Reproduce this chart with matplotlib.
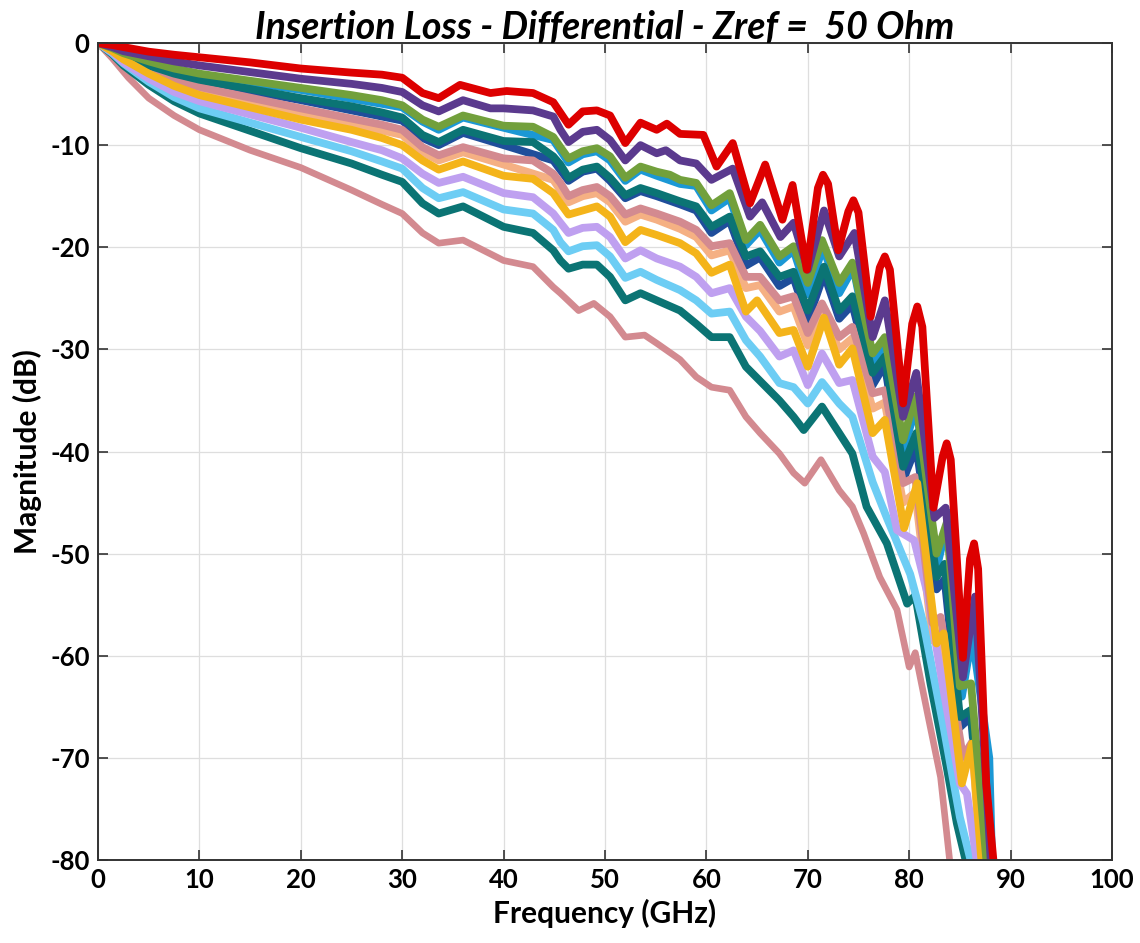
import matplotlib
matplotlib.use("Agg")
import matplotlib.pyplot as plt

plt.rcParams['font.family'] = ['Lato', 'DejaVu Sans']
plt.rcParams['axes.unicode_minus'] = False

# curves, (GHz, dB)
f_red = [0, 1.4, 2.5, 5, 7.5, 10, 15, 20, 25, 28, 30, 32, 33.6, 35.7, 38.7, 40.3, 42.9, 44.9, 46.4, 47.8, 49.2, 50.5,
         52, 53.5, 55.1, 56.1, 57.4, 59.7, 61, 62.6, 64.3, 65.8, 67.5, 68.5, 69.9, 71.0, 71.5, 72.0, 73,
         74.0, 74.5, 75.0, 76.2, 77.1, 77.6, 78.1, 79.4, 80.3, 80.8, 81.3, 82.4, 83.3, 83.7, 84.1, 85.3,
         86.0, 86.4, 86.8, 87.6, 88.4]
m_red = [0, -0.2, -0.4, -0.85, -1.15, -1.4, -1.9, -2.5, -2.9, -3.1, -3.4, -4.9, -5.4, -4.1, -4.9, -4.7, -4.9, -5.8, -8.0, -6.7, -6.6, -7.1,
         -9.8, -7.8, -8.5, -7.9, -8.9, -9.0, -12.1, -9.8, -15.7, -11.9, -17.3, -13.9, -22.2, -14.2, -12.9, -13.8, -20.3,
         -16.5, -15.4, -16.6, -26.8, -22.0, -20.9, -22.2, -35.3, -27.5, -25.8, -27.8, -45.5, -40.5, -39.2, -40.8, -60.2,
         -50.5, -49.0, -51.5, -72.5, -81]

f_purple = [0, 1.4, 2.5, 5, 7.5, 10, 15, 20, 25, 28, 30, 32, 33.6, 36, 38.7, 40, 42.9, 44.9, 45.6, 46.4, 47.8, 49.2, 50.5,
            52, 53.5, 55.1, 56, 57.4, 59, 60.5, 62.6, 64.3, 65.5, 67.3, 68.6, 70, 71.6, 73.1, 74.6, 76.4, 77.6,
            79.4, 80.7, 82.5, 83.6, 85.3, 86.5, 88.1]
m_purple = [0, -0.4, -0.8, -1.3, -1.8, -2.2, -2.85, -3.5, -4.0, -4.4, -4.8, -6.1, -6.7, -5.6, -6.4, -6.4, -6.6, -7.2, -8.5, -9.7, -8.7, -8.5, -9.5,
            -11.5, -10.0, -10.8, -10.5, -11.5, -11.8, -13.4, -12.3, -17.0, -15.6, -19.0, -17.6, -22.2, -16.4, -20.9, -18.6, -28.8, -25.2,
            -36.6, -32.3, -46.5, -45.5, -62.1, -54.2, -81]

f_green = [0, 1.4, 2.5, 5, 7.5, 10, 15, 20, 25, 28, 30, 32, 33.6, 36, 40, 42.9, 44.9, 45.6, 46.4, 47.8, 49.2, 50.5,
           52, 53.5, 55.1, 56.4, 57.4, 59, 60.5, 62.3, 63.9, 65.3, 67.2, 68.6, 70, 71.4, 73.1, 74.4, 76.4, 77.6,
           79.4, 80.6, 82.7, 83.7, 85.0, 86.1, 87.7]
m_green = [0, -0.5, -1.0, -1.8, -2.5, -3.0, -3.7, -4.4, -5.1, -5.6, -6.1, -7.5, -8.2, -7.1, -8.1, -8.2, -9.2, -10.2, -11.3, -10.6, -10.3, -11.1,
           -13.2, -12.1, -12.6, -12.9, -13.4, -13.7, -15.9, -14.7, -19.3, -17.8, -20.9, -19.9, -23.5, -19.3, -23.5, -21.5, -30.4, -28.8,
           -38.9, -34.6, -50.0, -47.0, -63.0, -62.7, -81]

f_teal1 = [0, 1.4, 2.5, 5, 7.5, 10, 15, 20, 25, 28, 30, 32, 33.6, 36, 40, 42.9, 44.9, 45.6, 46.4, 47.8, 49.2, 50.5,
           52, 53.5, 55.1, 57.4, 59, 60.5, 62.3, 63.9, 65.3, 67.2, 68.6, 70, 71.6, 73.1, 74.4, 76.4, 77.6,
           79.4, 80.7, 82.7, 83.5, 85.0, 86.1, 87.5]
m_teal1 = [0, -0.6, -1.2, -2.2, -3.0, -3.6, -4.5, -5.4, -6.2, -6.8, -7.3, -9.0, -9.7, -8.5, -9.6, -9.7, -11.1, -11.9, -13.2, -12.4, -12.1, -13.2,
           -14.9, -14.2, -14.7, -15.5, -16.0, -18.0, -17.0, -20.9, -20.4, -22.9, -22.4, -26.2, -21.9, -26.2, -24.8, -32.3, -30.7,
           -41.5, -38.2, -52.3, -51.0, -66.0, -65.3, -81]

f_pink1 = [0, 1.4, 2.5, 5, 7.5, 10, 15, 20, 25, 28, 30, 32, 33.6, 36, 40, 42.9, 44.9, 45.6, 46.4, 47.8, 49.2, 50.5,
           52, 53.5, 55.1, 57.4, 59, 60.5, 62.3, 63.9, 65.3, 67.2, 68.6, 70, 71.4, 73.1, 74.4, 76.4, 77.6,
           79.4, 80.6, 82.3, 83.1, 85.3, 86.3, 87.4]
m_pink1 = [0, -0.7, -1.4, -2.6, -3.6, -4.3, -5.35, -6.4, -7.4, -8.0, -8.5, -10.2, -11.0, -10.2, -11.3, -11.5, -12.8, -13.7, -15.0, -14.4, -14.1, -15.0,
           -16.8, -16.2, -16.7, -17.5, -18.3, -19.9, -19.6, -22.9, -22.9, -25.2, -24.8, -28.4, -25.5, -28.8, -27.8, -34.3, -34.0,
           -43.1, -42.5, -56.8, -56.2, -69.9, -68.3, -81]

f_yellow = [0, 1.4, 2.5, 5, 7.5, 10, 15, 20, 25, 28, 30, 32, 33.6, 36, 40, 42.9, 44.9, 45.6, 46.4, 47.8, 49.2, 50.5,
            52, 53.5, 55.1, 57.4, 59, 60.5, 62.3, 63.9, 65.0, 67.2, 68.6, 70, 71.6, 73.1, 74.4, 76.4, 77.6,
            79.5, 80.8, 82.7, 83.4, 85.2, 86.2, 87.2]
m_yellow = [0, -0.8, -1.6, -3.0, -4.2, -5.1, -6.3, -7.5, -8.5, -9.3, -10.0, -11.5, -12.4, -11.6, -13.0, -13.3, -14.7, -15.7, -16.8, -16.4, -16.0, -17.0,
            -19.5, -18.3, -18.8, -19.6, -20.6, -22.5, -21.7, -26.3, -25.2, -28.4, -28.1, -31.7, -26.9, -31.5, -29.9, -38.2, -36.9,
            -47.5, -43.1, -58.8, -57.8, -72.5, -68.6, -81]

f_lav = [0, 1.4, 2.5, 5, 7.5, 10, 15, 20, 25, 28, 30, 32, 33.6, 36, 40, 42.9, 44.9, 45.6, 46.4, 47.8, 49.2, 50.5,
         52, 53.5, 55.1, 57.4, 59, 60.5, 62.3, 63.9, 65.3, 67.2, 68.6, 70, 71.4, 73.1, 74.4, 76.4, 77.6,
         78.8, 80.5, 81.8, 83.4, 85.0, 85.7, 86.8]
m_lav = [0, -0.9, -1.9, -3.5, -4.8, -5.7, -7.0, -8.3, -9.7, -10.5, -11.3, -12.8, -13.7, -13.1, -14.7, -15.1, -16.7, -17.6, -18.6, -18.1, -18.0, -19.0,
         -21.1, -20.3, -21.1, -21.9, -22.9, -24.5, -24.0, -26.8, -28.2, -30.7, -30.1, -33.5, -30.4, -33.3, -33.0, -40.5, -42.0,
         -47.7, -48.7, -53.9, -63.4, -72.5, -73.5, -81]

f_lblue = [0, 1.4, 2.5, 5, 7.5, 10, 15, 20, 25, 28, 30, 32, 33.6, 36, 40, 42.9, 44.9, 45.6, 46.4, 47.8, 49.2, 50.5,
           52, 53.5, 55.1, 57.4, 59, 60.5, 62.3, 63.9, 65.3, 67.2, 68.6, 70, 71.4, 73.1, 74.4, 76.4, 77.8,
           80.1, 81.4, 83.4, 85.0, 86.3]
m_lblue = [0, -1.0, -2.0, -3.8, -5.3, -6.4, -7.8, -9.2, -10.6, -11.6, -12.3, -14.2, -15.2, -14.6, -16.3, -16.7, -18.3, -19.5, -20.4, -19.9, -19.8, -20.9,
           -23.0, -22.4, -23.2, -24.2, -25.2, -26.5, -26.3, -29.1, -30.7, -33.3, -33.7, -35.3, -33.2, -35.3, -36.6, -43.0, -46.5,
           -52.0, -56.8, -67.0, -75.8, -81]

f_teal2 = [0, 1.4, 2.5, 5, 7.5, 10, 15, 20, 25, 28, 30, 32, 33.6, 36, 40, 42.9, 44.9, 45.6, 46.4, 47.8, 49.2, 50.5,
           52, 53.5, 55.1, 57.4, 59, 60.5, 62.3, 63.9, 65.3, 67.2, 68.6, 69.6, 71.4, 73.1, 74.4, 75.8, 77.8,
           79.8, 80.6, 82.1, 83.7, 84.7, 85.8]
m_teal2 = [0, -1.1, -2.2, -4.1, -5.7, -6.9, -8.6, -10.3, -11.8, -12.9, -13.6, -15.7, -16.7, -16.0, -18.0, -18.6, -20.3, -21.3, -22.1, -21.7, -21.7, -22.9,
           -25.2, -24.5, -25.2, -26.2, -27.5, -28.8, -28.8, -31.7, -33.1, -35.0, -36.6, -37.9, -35.6, -38.2, -40.2, -45.4, -49.0,
           -54.9, -54.1, -62.7, -70.9, -76.4, -81]

f_pink2 = [0, 1.4, 3.0, 5, 7.5, 10, 15, 20, 25, 28, 30, 32, 33.6, 36, 40, 42.9, 44.9, 45.6, 47.4, 48.9, 50.5,
           52, 53.9, 55.1, 57.4, 59, 60.5, 62.3, 63.9, 65.3, 67.2, 68.6, 69.7, 71.3, 73.1, 74.4, 75.5, 77.1,
           78.8, 80.0, 80.6, 81.8, 83.1, 84.1]
m_pink2 = [0, -1.5, -3.4, -5.4, -7.1, -8.5, -10.5, -12.2, -14.4, -15.8, -16.7, -18.6, -19.6, -19.3, -21.3, -21.9, -23.9, -24.5, -26.2, -25.5, -26.8,
           -28.8, -28.6, -29.4, -31.0, -32.7, -33.7, -34.0, -36.6, -38.2, -40.2, -42.1, -43.1, -40.8, -43.8, -45.4, -48.0, -52.3,
           -55.5, -61.1, -59.7, -65.6, -71.9, -81]

# traces mostly hidden under the others
f_blue = [0, 5, 10, 20, 30, 32, 33.6, 36, 40, 44.9, 46.4, 47.8, 49.2, 50.5, 52, 53.5, 55.1, 57.4, 59, 60.5,
          62.3, 63.9, 65.3, 67.2, 68.6, 70, 71.5, 73.1, 74.5, 76.4, 77.6, 79.4, 80.7, 82.7, 84.0, 85.2, 86.2, 87.9, 88.2]
m_blue = [0, -1.9, -3.1, -4.6, -6.3, -7.7, -8.5, -7.3, -8.3, -9.5, -11.7, -10.9, -10.6, -11.5, -13.5, -12.4, -13.0, -13.8, -14.0, -16.4,
          -15.2, -19.8, -18.3, -21.5, -20.3, -24.6, -20.0, -24.5, -22.0, -31.5, -29.5, -40.0, -35.5, -51.5, -46.0, -64.0, -58.0, -70.0, -81]

f_dblue = [0, 5, 10, 20, 30, 32, 33.6, 36, 40, 44.9, 46.4, 47.8, 49.2, 50.5, 52, 53.5, 55.1, 57.4, 59, 60.5,
           62.3, 63.9, 65.3, 67.2, 68.6, 70, 71.6, 73.1, 74.4, 76.4, 77.6, 79.4, 80.7, 82.7, 83.5, 85.0, 86.1, 87.4]
m_dblue = [0, -2.3, -3.8, -5.6, -7.6, -9.3, -10.0, -8.8, -10.0, -11.5, -13.5, -12.6, -12.3, -13.5, -15.2, -14.5, -15.0, -15.8, -16.4, -18.6,
           -17.4, -21.8, -21.0, -23.8, -23.0, -27.2, -22.6, -27.0, -25.6, -33.5, -31.5, -42.8, -39.5, -53.5, -52.5, -67.0, -66.0, -81]

f_peach = [0, 5, 10, 20, 30, 32, 33.6, 36, 40, 44.9, 46.4, 47.8, 49.2, 50.5, 52, 53.5, 55.1, 57.4, 59, 60.5,
           62.3, 63.9, 65.3, 67.2, 68.6, 70, 71.5, 73.1, 74.4, 76.4, 77.6, 79.4, 80.6, 82.3, 83.1, 85.3, 86.3, 87.1]
m_peach = [0, -2.8, -4.6, -6.8, -9.0, -10.7, -11.5, -10.7, -11.9, -13.4, -15.6, -15.0, -14.7, -15.6, -17.5, -16.8, -17.3, -18.2, -19.0, -20.8,
           -20.3, -24.0, -23.7, -26.3, -25.8, -29.6, -26.5, -30.0, -28.9, -35.8, -35.2, -45.0, -44.0, -58.5, -57.8, -71.3, -69.8, -81]

fig = plt.figure(figsize=(11.4, 9.43), dpi=100)
ax = fig.add_axes([0.086, 0.088, 0.8894, 0.8664])

lw = 5.6
kw = dict(solid_joinstyle='round', solid_capstyle='round')
ax.plot(f_blue, m_blue, color='#1B98D5', lw=lw, **kw)
ax.plot(f_dblue, m_dblue, color='#1F4E9B', lw=lw, **kw)
ax.plot(f_peach, m_peach, color='#F5B083', lw=lw, **kw)
ax.plot(f_pink2, m_pink2, color='#D38A90', lw=4.8, **kw)
ax.plot(f_teal2, m_teal2, color='#0B7474', lw=lw, **kw)
ax.plot(f_lblue, m_lblue, color='#6DCDF4', lw=lw, **kw)
ax.plot(f_lav, m_lav, color='#BFA0F0', lw=lw, **kw)
ax.plot(f_pink1, m_pink1, color='#D38A90', lw=lw, **kw)
ax.plot(f_teal1, m_teal1, color='#0B7474', lw=lw, **kw)
ax.plot(f_yellow, m_yellow, color='#F4B41A', lw=lw, **kw)
ax.plot(f_green, m_green, color='#72A03C', lw=lw, **kw)
ax.plot(f_purple, m_purple, color='#5B3A8E', lw=lw, **kw)
ax.plot(f_red, m_red, color='#DD0000', lw=lw, **kw)

ax.set_xlim(0, 100)
ax.set_ylim(-80, 0)
ax.set_xticks(range(0, 101, 10))
ax.set_yticks(range(-80, 1, 10))
ax.grid(True, color='#DEDEDE', lw=0.9)
ax.set_axisbelow(True)
ax.tick_params(direction='in', length=7, width=1.2, top=True, right=True,
               labelsize=18.5, pad=6, colors='#333333', labelcolor='black')
for lab in ax.get_xticklabels() + ax.get_yticklabels():
    lab.set_fontweight('bold')
for s in ax.spines.values():
    s.set_color('#333333')
    s.set_linewidth(1.4)

ax.set_xlabel('Frequency (GHz)', fontsize=21.5, fontweight='bold', labelpad=5)
ax.set_ylabel('Magnitude (dB)', fontsize=21.5, fontweight='bold', labelpad=6)
ax.set_title('Insertion Loss - Differential - Zref =  50 Ohm', fontsize=27,
             fontweight='bold', style='italic', pad=3)

fig.savefig('out.png', dpi=100)
